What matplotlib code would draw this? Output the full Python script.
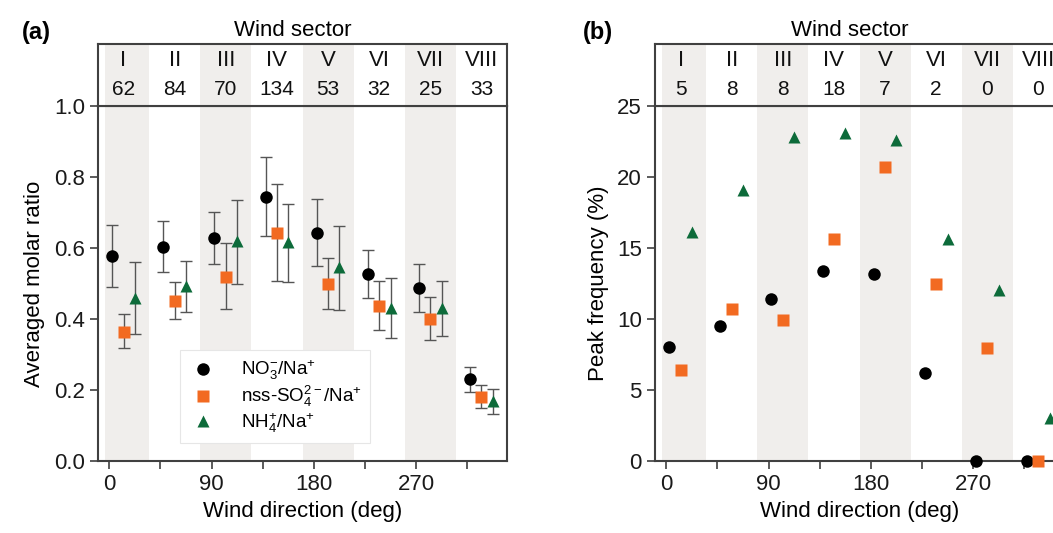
import numpy as np
import matplotlib
matplotlib.use("Agg")
import matplotlib.pyplot as plt

plt.rcParams["font.family"] = ["Liberation Sans", "DejaVu Sans"]
plt.rcParams["font.size"] = 16
plt.rcParams["mathtext.fontset"] = "custom"
plt.rcParams["mathtext.rm"] = "Liberation Sans"
plt.rcParams["mathtext.it"] = "Liberation Sans:italic"
plt.rcParams["mathtext.default"] = "regular"

# wind sectors
sectors = ["I", "II", "III", "IV", "V", "VI", "VII", "VIII"]
sector_centre = [12.5, 57.5, 102.5, 147.5, 192.5, 237.5, 282.5, 327.5]
n_samples = [62, 84, 70, 134, 53, 32, 25, 33]
n_peaks = [5, 8, 8, 18, 7, 2, 0, 0]

# (a) averaged molar ratios with lower / upper bounds
no3 = [0.577, 0.604, 0.629, 0.743, 0.642, 0.527, 0.488, 0.231]
no3_lo = [0.489, 0.533, 0.555, 0.633, 0.549, 0.458, 0.421, 0.194]
no3_hi = [0.664, 0.677, 0.702, 0.855, 0.737, 0.594, 0.555, 0.265]

so4 = [0.364, 0.451, 0.519, 0.642, 0.499, 0.436, 0.401, 0.181]
so4_lo = [0.317, 0.399, 0.427, 0.506, 0.427, 0.368, 0.341, 0.149]
so4_hi = [0.414, 0.503, 0.613, 0.780, 0.571, 0.506, 0.463, 0.213]

nh4 = [0.460, 0.494, 0.619, 0.616, 0.546, 0.431, 0.431, 0.169]
nh4_lo = [0.357, 0.420, 0.499, 0.503, 0.425, 0.347, 0.351, 0.131]
nh4_hi = [0.560, 0.563, 0.736, 0.725, 0.663, 0.515, 0.508, 0.203]

# (b) peak frequency (%)
no3_peak = [8.04, 9.49, 11.39, 13.38, 13.17, 6.23, 0.0, 0.0]
so4_peak = [6.42, 10.68, 9.96, 15.6, 20.69, 12.46, 7.97, 0.0]
nh4_peak = [16.12, 19.05, 22.84, 23.12, 22.6, 15.63, 12.02, 3.05]

bands = [(-4, 35), (80, 125), (170, 215), (260, 305)]

c_no3 = "black"
c_so4 = "#f26a21"
c_nh4 = "#0d6b3a"
band_col = "#f0eeec"
spine_col = "#404040"

W, H = 1053, 533
fig = plt.figure(figsize=(W / 100, H / 100), dpi=100)


def box(l, t, r, b):
    return [l / W, 1 - b / H, (r - l) / W, (b - t) / H]


def style(ax):
    for s in ax.spines.values():
        s.set_color(spine_col)
        s.set_linewidth(1.5)
    ax.tick_params(colors=spine_col, labelcolor="#1a1a1a", width=1.2, length=6)


def header(hd, counts):
    hd.set_xlim(-10, 350)
    hd.set_ylim(0, 1)
    for a, b in bands:
        hd.axvspan(a, b, color=band_col, lw=0, zorder=0)
    for xc, s, n in zip(sector_centre, sectors, counts):
        hd.text(xc, 0.73, s, ha="center", va="center", fontsize=16, color="#111111")
        hd.text(xc, 0.27, str(n), ha="center", va="center", fontsize=15, color="#111111")
    hd.set_xticks([])
    hd.set_yticks([])
    style(hd)
    hd.text(0.475, 1.05, "Wind sector", transform=hd.transAxes,
            ha="center", va="bottom", fontsize=16)


def main(ax):
    ax.set_xlim(-10, 350)
    for a, b in bands:
        ax.axvspan(a, b, color=band_col, lw=0, zorder=0)
    ax.set_xticks(np.arange(0, 360, 45))
    ax.set_xticklabels(["0", "", "90", "", "180", "", "270", ""])
    ax.set_xlabel("Wind direction (deg)", labelpad=4)
    style(ax)


x = np.array(sector_centre)
series = [
    (no3, no3_lo, no3_hi, no3_peak, x - 10, "o", c_no3, 9, r"NO$_3^{-}$/Na$^{+}$"),
    (so4, so4_lo, so4_hi, so4_peak, x, "s", c_so4, 8, r"nss-SO$_4^{2-}$/Na$^{+}$"),
    (nh4, nh4_lo, nh4_hi, nh4_peak, x + 10, "^", c_nh4, 9, r"NH$_4^{+}$/Na$^{+}$"),
]

# panel (a)
ax_a = fig.add_axes(box(98, 106, 507, 461))
hd_a = fig.add_axes(box(98, 44, 507, 106))
main(ax_a)
header(hd_a, n_samples)
ax_a.set_ylim(0, 1.0)
ax_a.set_yticks(np.arange(0, 1.01, 0.2))
ax_a.set_yticklabels([f"{v:.1f}" for v in np.arange(0, 1.01, 0.2)])
ax_a.set_ylabel("Averaged molar ratio", labelpad=6)

handles = []
for y, lo, hi, _, xs, m, c, ms, lab in series:
    y, lo, hi = np.array(y), np.array(lo), np.array(hi)
    ax_a.errorbar(xs, y, yerr=[y - lo, hi - y], fmt="none", ecolor="#555555",
                  elinewidth=1, capsize=4.5, capthick=1, zorder=2)
    h, = ax_a.plot(xs, y, m, color=c, ms=ms, mec="none", ls="none", zorder=3, label=lab)
    handles.append(h)

leg = ax_a.legend(handles=handles, loc="lower left", bbox_to_anchor=(0.2, 0.05),
                  borderaxespad=0, fontsize=13.5, frameon=True, fancybox=False,
                  framealpha=1, edgecolor="#e6e6e6", handletextpad=1.2,
                  borderpad=0.45, labelspacing=0.1, handlelength=1.6)
leg.get_frame().set_linewidth(0.8)
fig.text(22 / W, 1 - 32 / H, "(a)", fontsize=17, fontweight="bold", va="center")

# panel (b)
ax_b = fig.add_axes(box(655, 106, 1064, 461))
hd_b = fig.add_axes(box(655, 44, 1064, 106))
main(ax_b)
header(hd_b, n_peaks)
ax_b.set_ylim(0, 25)
ax_b.set_yticks(np.arange(0, 26, 5))
ax_b.set_ylabel("Peak frequency (%)", labelpad=6)

for _, _, _, p, xs, m, c, ms, lab in series:
    ax_b.plot(xs, p, m, color=c, ms=ms, mec="none", ls="none", zorder=3, clip_on=False)

fig.text(583 / W, 1 - 32 / H, "(b)", fontsize=17, fontweight="bold", va="center")

fig.savefig("out.png", dpi=100)
